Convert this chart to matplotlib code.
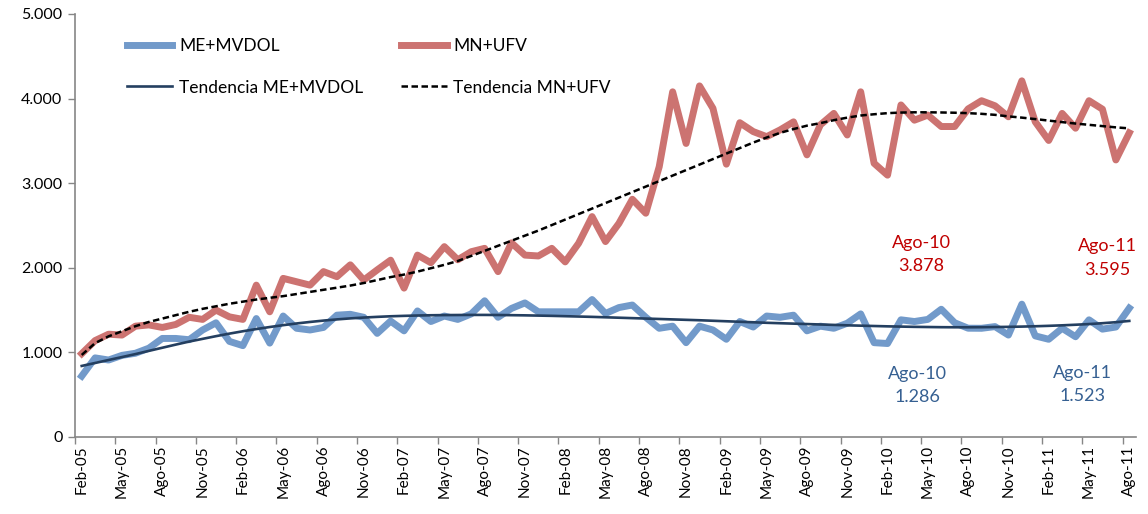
import matplotlib
matplotlib.use("Agg")
import matplotlib.pyplot as plt
from matplotlib.lines import Line2D
from matplotlib.ticker import FuncFormatter, FixedLocator

plt.rcParams['font.family'] = ['Lato', 'DejaVu Sans']

# 79 monthly observations, Feb-05 .. Ago-11
me_mvdol = [720, 935, 910, 965, 990, 1050, 1165, 1165, 1150, 1265, 1350, 1130,
            1080, 1400, 1110, 1430, 1285, 1265, 1295, 1440, 1450, 1415, 1225, 1370,
            1255, 1490, 1365, 1430, 1390, 1455, 1610, 1415, 1520, 1585, 1480, 1480,
            1480, 1480, 1625, 1460, 1530, 1560, 1415, 1285, 1310, 1115, 1310, 1265,
            1155, 1365, 1300, 1430, 1415, 1440, 1255, 1310, 1285, 1345, 1455, 1115,
            1105, 1385, 1365, 1390, 1510, 1350, 1286, 1285, 1305, 1205, 1570, 1195,
            1155, 1285, 1185, 1385, 1275, 1300, 1523]

mn_ufv = [985, 1140, 1215, 1205, 1310, 1325, 1295, 1330, 1415, 1390, 1500, 1420,
          1390, 1795, 1480, 1875, 1835, 1795, 1955, 1895, 2035, 1855, 1975, 2090,
          1760, 2150, 2060, 2250, 2095, 2190, 2230, 1955, 2295, 2150, 2140, 2230,
          2070, 2290, 2605, 2310, 2525, 2810, 2645, 3195, 4080, 3470, 4150, 3885,
          3225, 3715, 3610, 3550, 3630, 3725, 3335, 3690, 3825, 3570, 4080, 3235,
          3095, 3925, 3745, 3805, 3670, 3670, 3878, 3975, 3915, 3785, 4210, 3725,
          3505, 3825, 3650, 3975, 3875, 3275, 3595]

tend_me = [840, 875, 910, 945, 980, 1018, 1055, 1092, 1128, 1160, 1192, 1222,
           1250, 1276, 1300, 1322, 1342, 1360, 1376, 1390, 1402, 1412, 1420, 1427,
           1432, 1436, 1439, 1441, 1442, 1443, 1443, 1442, 1440, 1438, 1435, 1432,
           1428, 1424, 1420, 1415, 1410, 1405, 1400, 1395, 1390, 1385, 1380, 1374,
           1368, 1362, 1356, 1350, 1345, 1340, 1335, 1330, 1325, 1320, 1316, 1312,
           1308, 1305, 1302, 1300, 1298, 1297, 1297, 1298, 1300, 1302, 1305, 1309,
           1314, 1320, 1327, 1335, 1345, 1357, 1372]

tend_mn = [970, 1110, 1190, 1250, 1310, 1360, 1400, 1440, 1480, 1515, 1545, 1575,
           1600, 1625, 1645, 1665, 1690, 1715, 1740, 1765, 1790, 1820, 1855, 1890,
           1920, 1955, 1995, 2035, 2080, 2140, 2200, 2260, 2320, 2380, 2440, 2505,
           2570, 2635, 2700, 2765, 2830, 2895, 2960, 3025, 3090, 3155, 3220, 3285,
           3350, 3415, 3480, 3540, 3595, 3640, 3680, 3710, 3745, 3775, 3800, 3815,
           3828, 3835, 3838, 3838, 3836, 3833, 3828, 3820, 3808, 3790, 3775, 3758,
           3740, 3722, 3705, 3690, 3675, 3660, 3648]

tick_labels = ['Feb-05', 'May-05', 'Ago-05', 'Nov-05', 'Feb-06', 'May-06', 'Ago-06',
               'Nov-06', 'Feb-07', 'May-07', 'Ago-07', 'Nov-07', 'Feb-08', 'May-08',
               'Ago-08', 'Nov-08', 'Feb-09', 'May-09', 'Ago-09', 'Nov-09', 'Feb-10',
               'May-10', 'Ago-10', 'Nov-10', 'Feb-11', 'May-11', 'Ago-11']

W, H = 1148, 514
fig = plt.figure(figsize=(W / 100, H / 100), dpi=100)
ax = fig.add_axes([75 / W, (H - 437) / H, (1136 - 75) / W, (437 - 14) / H])

x = list(range(len(mn_ufv)))
c_blue = '#4F81BD'
c_red = '#C0504D'
c_navy = '#243F60'

ax.plot(x, me_mvdol, color=c_blue, lw=5, alpha=0.8, solid_joinstyle='round')
ax.plot(x, mn_ufv, color=c_red, lw=5, alpha=0.8, solid_joinstyle='round')
ax.plot(x, tend_me, color=c_navy, lw=1.9)
ax.plot(x, tend_mn, color='black', lw=1.8, linestyle=(0, (2.6, 1.4)))

ax.set_xlim(-0.5, len(x) - 0.5)
ax.set_ylim(0, 5000)
ax.set_yticks([0, 1000, 2000, 3000, 4000, 5000])
ax.yaxis.set_major_formatter(FuncFormatter(lambda v, p: f"{int(v):,}".replace(',', '.')))

label_pos = list(range(0, len(x), 3))
ax.set_xticks(label_pos)
ax.set_xticklabels(tick_labels, rotation=90, fontsize=11)
ax.tick_params(axis='x', which='major', length=0, pad=6)
ax.xaxis.set_minor_locator(FixedLocator([p - 0.5 for p in label_pos]))
ax.tick_params(axis='x', which='minor', length=5, color='#868686', width=1)
ax.tick_params(axis='y', length=5, color='#868686', width=1, labelsize=11.5, pad=4)

for s in ['top', 'right']:
    ax.spines[s].set_visible(False)
for s in ['left', 'bottom']:
    ax.spines[s].set_color('#868686')
    ax.spines[s].set_linewidth(1.2)

handles = [Line2D([], [], color=c_blue, lw=5, alpha=0.8),
           Line2D([], [], color=c_navy, lw=1.9),
           Line2D([], [], color=c_red, lw=5, alpha=0.8),
           Line2D([], [], color='black', lw=1.8, linestyle=(0, (2.6, 1.4)))]
labels = ['ME+MVDOL', 'Tendencia ME+MVDOL', 'MN+UFV', 'Tendencia MN+UFV']
fig.legend(handles, labels, ncol=2, loc='upper left',
           bbox_to_anchor=(127 / W, 1 - 38 / H), frameon=False, fontsize=12.5,
           handlelength=2.6, handletextpad=0.4, columnspacing=2.2,
           labelspacing=1.47, borderpad=0, borderaxespad=0)

ann = dict(fontsize=13, ha='center', va='center', linespacing=1.55)
ax.text(62.5, 2160, 'Ago-10\n3.878', color='#C00000', **ann)
ax.text(76.4, 2115, 'Ago-11\n3.595', color='#C00000', **ann)
ax.text(62.2, 605, 'Ago-10\n1.286', color='#366092', **ann)
ax.text(74.5, 625, 'Ago-11\n1.523', color='#366092', **ann)

fig.savefig('out.png', dpi=100)
